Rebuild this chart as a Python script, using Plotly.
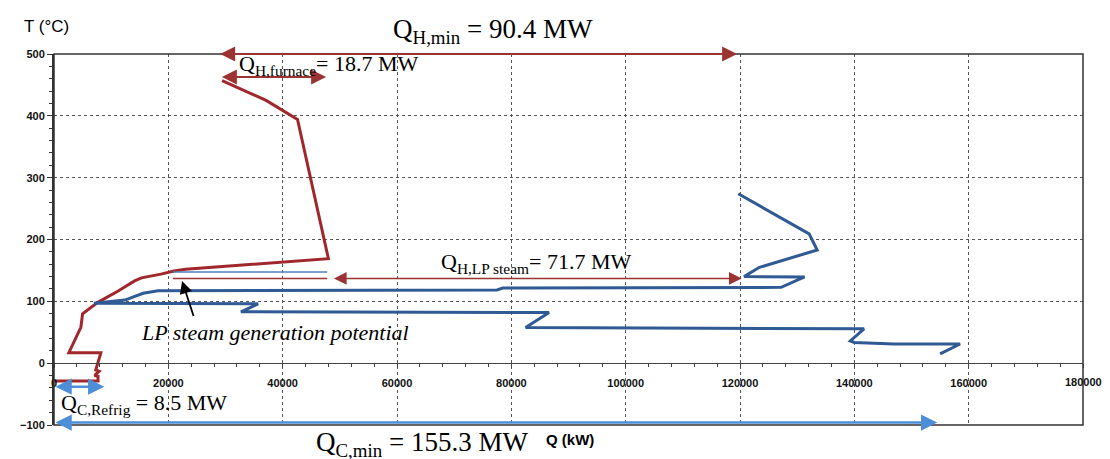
import plotly.graph_objects as go

# ---- data (Q in kW, T in °C) ----
red_q = [0, 7700, 7700, 7100, 7900, 7300, 8200, 2600, 4700, 5000, 7600, 10000, 11300,
         14100, 15300, 18700, 21000, 23000, 48000, 42600, 37100, 29400]
red_t = [-29, -29, -21, -20, -13, -11, 17, 17, 58, 80, 98, 110, 117,
         133, 138, 144, 149, 152, 169, 394, 425, 457]

blue_q = [155000, 158500, 147000, 140000, 139300, 141700, 82500, 86600, 32700, 35700,
          7000, 12400, 15600, 18200, 77500, 78500, 127200, 131300, 120700, 123400,
          133500, 132100, 119700]
blue_t = [15, 31, 31, 33.5, 36, 55.5, 57.5, 82, 83, 96, 97, 102, 113, 117, 118.5, 121.5,
          122.6, 139.5, 140, 155, 183, 209, 274]

lp_q = [20800, 47800]
lp_blue_t = [147.5, 147.5]
lp_red_t = [137, 137]

# arrows: (Q start, Q end, T)
arr_qhmin = (28800, 119500, 500)
arr_furnace = (29100, 47600, 463)
arr_lp = (48700, 120300, 137)
arr_refrig = (0, 8800, -38)
arr_qcmin = (0, 154500, -96)
arr_pointer = (24500, 74, 22400, 133)   # tail Q, tail T, head Q, head T

x_ticks = [0, 20000, 40000, 60000, 80000, 100000, 120000, 140000, 160000, 180000]
y_ticks = [-100, 0, 100, 200, 300, 400, 500]

RED = "#A0282C"
BLUE = "#2F5A94"
THIN_BLUE = "#4F81BD"
ARR_RED = "#9B3333"
ARR_BLUE = "#4D8ED8"
SERIF = "Liberation Serif"
SANS = "Liberation Sans"
TICKFONT = dict(family=SANS, size=11, color="#111111", weight="bold")

fig = go.Figure()
fig.add_trace(go.Scatter(x=red_q, y=red_t, mode="lines",
                         line=dict(color=RED, width=3), showlegend=False))
fig.add_trace(go.Scatter(x=blue_q, y=blue_t, mode="lines",
                         line=dict(color=BLUE, width=3), showlegend=False))
fig.add_trace(go.Scatter(x=lp_q, y=lp_blue_t, mode="lines",
                         line=dict(color=THIN_BLUE, width=1.5), showlegend=False))
fig.add_trace(go.Scatter(x=lp_q, y=lp_red_t, mode="lines",
                         line=dict(color=ARR_RED, width=1.5), showlegend=False))


def dbl_arrow(a, color, width, size):
    q0, q1, t = a
    fig.add_annotation(x=q1, y=t, ax=q0, ay=t, xref="x", yref="y", axref="x", ayref="y",
                       text="", showarrow=True, arrowhead=2, startarrowhead=2,
                       arrowside="end+start", arrowsize=size, startarrowsize=size,
                       arrowwidth=width, arrowcolor=color)


dbl_arrow(arr_qhmin, ARR_RED, 2, 1.5)
dbl_arrow(arr_furnace, ARR_RED, 2, 1.5)
dbl_arrow(arr_lp, ARR_RED, 1.5, 1.7)
dbl_arrow(arr_refrig, ARR_BLUE, 2.5, 1.3)
dbl_arrow(arr_qcmin, ARR_BLUE, 2.5, 1.3)

fig.add_annotation(x=arr_pointer[2], y=arr_pointer[3], ax=arr_pointer[0], ay=arr_pointer[1],
                   xref="x", yref="y", axref="x", ayref="y", text="", showarrow=True,
                   arrowhead=2, arrowsize=1.4, arrowwidth=1.8, arrowcolor="black")

# texts inside the plotting range (data coordinates)
texts = [
    (48000, 482, "Q<sub>H,furnace</sub>= 18.7 MW", 22, "normal"),
    (84300, 162, "Q<sub>H,LP steam</sub>= 71.7 MW", 22, "normal"),
    (38650, 50, "LP steam generation potential", 22, "italic"),
    (15700, -66, "Q<sub>C,Refrig</sub> = 8.5 MW", 22, "normal"),
]
for q, t, s, sz, style in texts:
    fig.add_annotation(x=q, y=t, xref="x", yref="y", text=s, showarrow=False,
                       xanchor="center", yanchor="middle",
                       font=dict(family=SERIF, size=sz, color="black", style=style))

# last x tick label, drawn at the right edge (cut by the page like in the original)
fig.add_annotation(x=x_ticks[-1], y=-30, xref="x", yref="y", text=str(x_ticks[-1]),
                   showarrow=False, xanchor="center", yanchor="middle", font=TICKFONT)

# texts outside the plotting range (paper coordinates)
outer = [
    (0.4267, 1.062, "Q<sub>H,min</sub> = 90.4 MW", SERIF, 27),
    (0.358, -0.052, "Q<sub>C,min</sub> = 155.3 MW", SERIF, 27),
    (0.5014, -0.040, "<b>Q (kW)</b>", SANS, 15),
    (-0.007, 1.073, "T (°C)", SANS, 17),
]
for px, py, s, fam, sz in outer:
    fig.add_annotation(x=px, y=py, xref="paper", yref="paper", text=s, showarrow=False,
                       xanchor="center", yanchor="middle",
                       font=dict(family=fam, size=sz, color="black"))

fig.add_shape(type="rect", xref="paper", yref="paper", x0=0, x1=1, y0=0, y1=1,
              line=dict(color="#333333", width=1.5), layer="above")

fig.update_layout(
    width=1094, height=451,
    margin=dict(l=32, r=19, t=46, b=34),
    paper_bgcolor="white", plot_bgcolor="white",
    showlegend=False,
    xaxis=dict(range=[0, 180000], tickvals=x_ticks,
               ticktext=[str(v) for v in x_ticks[:-1]] + [""],
               anchor="free", position=1/6, showline=True, linecolor="#444444", linewidth=1.2,
               ticks="outside", ticklen=4, tickcolor="#444444",
               minor=dict(dtick=4000, ticks="outside", ticklen=3, tickcolor="#444444", showgrid=False),
               showgrid=True, gridcolor="#555555", gridwidth=1, griddash="dot",
               zeroline=False, ticklabelstandoff=6,
               tickfont=TICKFONT),
    yaxis=dict(range=[-100, 500], tickvals=y_ticks, showline=True, linecolor="#333333",
               linewidth=2, ticks="outside", ticklen=5, tickcolor="#333333",
               minor=dict(dtick=20, ticks="outside", ticklen=3, tickcolor="#333333", showgrid=False),
               showgrid=True, gridcolor="#555555", gridwidth=1, griddash="dot",
               zeroline=False,
               tickfont=TICKFONT),
)

fig.write_html("out.html")
